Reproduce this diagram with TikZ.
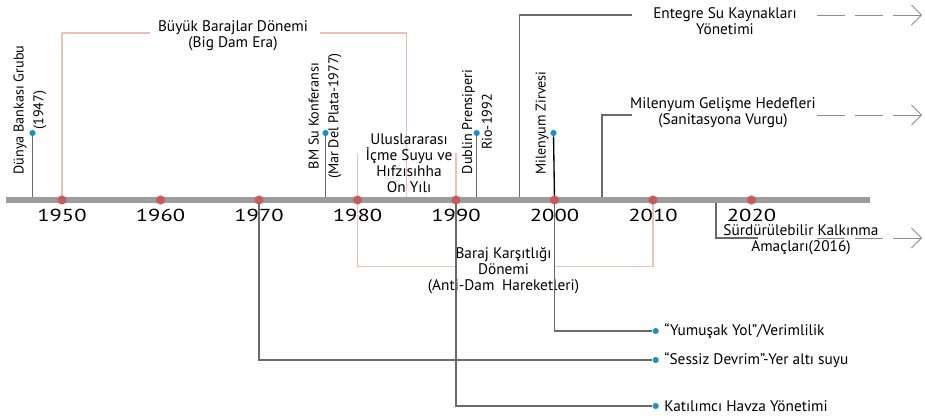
\documentclass[tikz,border=0pt]{standalone}
\usepackage{fontspec}
\setmainfont{PT Sans}
\usepackage{xcolor}
\usepackage{tikz}
\usetikzlibrary{arrows.meta,positioning,calc}
\definecolor{axisgray}{HTML}{9C9C9C}
\definecolor{dotred}{HTML}{C65B5B}
\definecolor{dotblue}{HTML}{1A8FCF}
\definecolor{erasalmon}{HTML}{EBC2B4}
\definecolor{linegray}{HTML}{6A6A6A}

\begin{document}
\begin{tikzpicture}[x=0.75pt, y=-0.75pt, font=\fontsize{11.5}{12}\selectfont,
  stem/.style={draw=linegray, line width=0.8pt},
  era/.style={draw=erasalmon, line width=0.8pt},
  decdot/.style={circle, fill=dotred, inner sep=0pt, minimum size=6.8pt},
  evdot/.style={circle, fill=dotblue, inner sep=0pt, minimum size=4.6pt},
  vlabel/.style={rotate=90, align=center, inner sep=0pt, font=\fontsize{10.6}{14.8}\selectfont},
  lbl/.style={align=center, inner sep=0pt},
  yearlbl/.style={inner sep=0pt, font=\fontsize{13}{14}\selectfont},
  future/.style={draw=axisgray!90!black, line width=0.6pt, dash pattern=on 21pt off 7.5pt,
    -{Straight Barb[length=7.5pt, width=15pt]}}]
  \useasboundingbox (0,0) rectangle (925,418);
  % axis ends and decade points (1 decade = 98.5 px)
  \coordinate (axL) at (6,200);
  \coordinate (axR) at (870,200);
  \foreach \yr in {1950,1960,...,2020}
    \coordinate (y\yr) at ({62+(\yr-1950)*9.85},200);
  \coordinate (y1985) at (406.75,200);

  % Big Dam Era 1950--1985
  \coordinate (bdL) at (150,33);
  \coordinate (bdR) at (320,33);
  \draw[era] (y1950) |- (bdL);
  \draw[era] (bdR) -| (y1985);
  \node[lbl] (bigdam) at (233,35.5) {Büyük Barajlar Dönemi\\(Big Dam Era)};

  % drinking water decade 1980--1990
  \coordinate (dwTop) at (0,153);
  \draw[era] (y1980) -- (y1980 |- dwTop);
  \draw[era] (y1990) -- (y1990 |- dwTop);
  \node[lbl] (dwd) at (409,163.5) {Uluslararası\\İçme Suyu ve\\Hıfzısıhha\\On Yılı};

  % anti-dam period 1980--2010
  \coordinate (adL) at (455,266.7);
  \coordinate (adR) at (555,266.7);
  \draw[era] (y1980) |- (adL);
  \draw[era] (adR) -| (y2010);
  \node[lbl] (antidam) at (503.5,271) {Baraj Karşıtlığı\\Dönemi\\(Anti-Dam\enspace Hareketleri)};

  % single events above the axis
  \node[evdot] (wb) at (32.5,133) {};
  \draw[stem] (wb) -- (wb |- axL);
  \node[vlabel] (wbtxt) at (30,110) {Dünya Bankası Grubu\\(1947)};
  \node[evdot] (bm) at (325.5,133) {};
  \draw[stem] (bm) -- (bm |- axL);
  \node[vlabel] (bmtxt) at (325,116) {BM Su Konferansı\\(Mar Del Plata-1977)};
  \node[evdot] (dub) at (476.7,133) {};
  \draw[stem] (dub) -- (dub |- axL);
  \node[vlabel] (dubtxt) at (477,122) {Dublin Prensiperi\\Rio-1992};
  \node[evdot] (ms) at (553.5,133) {};
  \draw[black, line width=1pt] (ms) -- (y2000);
  \node[vlabel] (mstxt) at (542,123) {Milenyum Zirvesi};

  % ongoing approaches (dashed arrows to the right)
  \coordinate (iw) at (519.3,200);
  \coordinate (iwL) at (632,15);
  \coordinate (iwR) at (817,15);
  \coordinate (iwTip) at (922,15);
  \draw[stem] (iw) |- (iwL);
  \node[lbl] (iwrm) at (725,21) {Entegre Su Kaynakları\\Yönetimi};
  \draw[future] (iwR) -- (iwTip);
  \coordinate (mdg) at (602,200);
  \coordinate (mdgL) at (632,115);
  \coordinate (mdgR) at (817,115);
  \coordinate (mdgTip) at (922,115);
  \draw[stem] (mdg) |- (mdgL);
  \node[lbl] (mdgtxt) at (723,113) {Milenyum Gelişme Hedefleri\\(Sanitasyona Vurgu)};
  \draw[future] (mdgR) -- (mdgTip);
  \coordinate (sdg) at (716,200);
  \coordinate (sdgL) at (758,238);
  \coordinate (sdgR) at (817,238);
  \coordinate (sdgTip) at (922,238);
  \draw[stem] (sdg) |- (sdgL);
  \node[lbl] (sdgtxt) at (801,240) {Sürdürülebilir Kalkınma\\Amaçları(2016)};
  \draw[future] (sdgR) -- (sdgTip);

  % approaches below the axis
  \node[evdot] (soft) at (655.7,331) {};
  \node[evdot] (silent) at (655.7,360) {};
  \node[evdot] (basin) at (655.7,406) {};
  \draw[stem] (y2000) |- (soft);
  \draw[stem] (y1970) |- (silent);
  \draw[stem] (y1990) |- (basin);
  \node[right=3.8pt of soft, inner sep=0pt] (softtxt) {“Yumuşak Yol”/Verimlilik};
  \node[right=3.8pt of silent, inner sep=0pt] (silenttxt) {“Sessiz Devrim”-Yer altı suyu};
  \node[right=3.8pt of basin, inner sep=0pt] (basintxt) {Katılımcı Havza Yönetimi};

  % the axis itself, decade dots and years on top
  \draw[axisgray, line width=3.9pt] (axL) -- (axR);
  \foreach \yr in {1950,1960,...,2020} {
    \node[decdot] (d\yr) at (y\yr) {};
    \node[yearlbl] (t\yr) at ($(y\yr)+(0,15.5)$) {\scalebox{1.3}[1]{\yr}};
  }
\end{tikzpicture}
\end{document}
